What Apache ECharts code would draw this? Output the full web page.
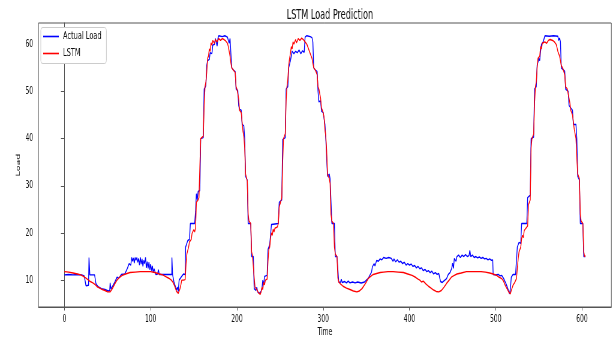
<!DOCTYPE html>
<html>
<head>
<meta charset="utf-8">
<title>LSTM Load Prediction</title>
<script src="https://cdn.jsdelivr.net/npm/echarts@6/dist/echarts.min.js"></script>
<style>
  html, body { margin: 0; padding: 0; background: #fff; }
  #wrap { width: 616px; height: 337px; overflow: hidden; }
  /* the reference figure is squeezed horizontally, so draw wide and squeeze the same way */
  #chart { width: 1027px; height: 337px; transform: scaleX(0.5998); transform-origin: 0 0; }
</style>
</head>
<body>
<div id="wrap"><div id="chart"></div></div>
<script>
// [time, load]
const actualLoad = [
  [0, 11.1], [5, 11.2], [10, 11.1], [15, 11.2], [20, 11.1], [23, 10.9], [24, 10.7], [25, 8.8], [28, 8.9],
  [28.5, 14.8], [29.5, 11.1], [35, 11.1], [36.5, 9.3], [39, 8.6], [43, 8.2], [47, 8.0], [51, 7.7], [52.5, 7.8],
  [53, 9.4], [54, 8.1], [56.5, 8.9], [58.5, 9.6], [61, 10.6], [63, 10.4], [66, 11.2], [70, 11.3], [73, 12.5],
  [75, 13.5], [77, 13.2], [78, 14.8], [79, 14.0], [80, 14.7], [81, 13.6], [82, 14.8], [83, 14.2], [84, 14.8],
  [85, 13.8], [86, 14.6], [87, 13.2], [88, 14.8], [89, 13.4], [90, 14.5], [91, 12.9], [92, 14.2], [93, 13.5],
  [94, 14.8], [95, 12.6], [96, 13.9], [97, 12.5], [98, 13.8], [99, 12.2], [100, 13.4], [101, 12.0], [102, 13.0],
  [103, 11.6], [104, 12.4], [105, 11.8], [106, 11.2], [108, 11.3], [109, 12.2], [110, 11.2], [114, 11.2],
  [118, 11.2], [122, 11.2], [124.5, 11.2], [124.6, 14.8], [125.4, 11.2], [127, 9.6], [130, 7.9], [131, 8.5],
  [132, 7.6], [133, 10.0], [136, 10.8], [138, 11.3], [140, 11.2], [140.5, 17.0], [143, 18.4], [145, 18.6],
  [146, 22.0], [151, 22.0], [152, 24.5], [153, 28.3], [154, 27.0], [155, 28.8], [157, 29.0], [158, 40.0],
  [161, 40.2], [162, 50.5], [164, 51.2], [165, 55.5], [166, 56.5], [168, 56.8], [169, 58.2], [171, 58.0],
  [172, 59.8], [174, 60.0], [175, 61.2], [177, 59.6], [178, 61.3], [179, 61.8], [183, 61.6], [186, 61.8],
  [189, 61.5], [190, 61.8], [191, 60.2], [192, 61.2], [193, 58.0], [194, 55.0], [196, 54.5], [198, 54.2],
  [199, 50.5], [201, 50.2], [202, 47.0], [203, 46.2], [205, 46.0], [206, 43.0], [208, 42.7], [209, 40.0],
  [210, 32.0], [212, 31.2], [213, 22.0], [216, 22.0], [217, 15.0], [219, 15.0], [220, 8.2], [222, 7.8],
  [223, 8.5], [224, 7.5], [226, 7.2], [228, 7.6], [229, 8.3], [230, 10.0], [231, 9.0], [232, 10.8], [235, 11.0],
  [236, 16.5], [238, 17.5], [240, 21.8], [241, 22.0], [248, 22.0], [249, 26.5], [252, 27.0], [253, 39.8],
  [256, 40.2], [257, 50.5], [259, 51.0], [260, 55.0], [262, 56.5], [264, 58.5], [266, 58.0], [268, 58.5],
  [270, 58.2], [272, 58.8], [274, 58.0], [276, 58.6], [278, 58.3], [279, 61.5], [281, 61.8], [285, 61.6],
  [287, 61.4], [288, 60.5], [289, 55.0], [291, 54.5], [293, 54.2], [294, 50.0], [295, 47.8], [297, 48.0],
  [298, 45.8], [300, 45.5], [302, 43.0], [303, 40.0], [305, 32.0], [307, 32.5], [308, 31.5], [310, 22.0],
  [313, 22.0], [314, 15.0], [316, 15.0], [318, 9.6], [320, 9.5], [321, 10.2], [322, 9.5], [325, 9.7],
  [327, 9.4], [329, 9.8], [331, 9.4], [334, 9.6], [337, 9.4], [340, 9.6], [344, 9.4], [348, 9.6], [350, 10.0],
  [352, 10.3], [354, 11.0], [356, 11.7], [357, 12.8], [359, 13.5], [360, 13.0], [362, 14.2], [364, 14.0],
  [366, 14.5], [368, 14.3], [370, 14.8], [373, 14.6], [376, 14.8], [379, 14.6], [381, 14.0], [382, 14.5],
  [384, 13.9], [386, 14.3], [388, 13.8], [390, 14.0], [392, 13.5], [394, 13.8], [396, 13.2], [398, 13.5],
  [400, 13.2], [402, 13.4], [404, 12.9], [406, 13.1], [408, 12.6], [410, 12.9], [412, 12.4], [414, 12.6],
  [416, 12.0], [418, 12.3], [420, 11.8], [422, 12.0], [424, 11.6], [426, 11.9], [428, 11.3], [430, 11.6],
  [432, 11.2], [434, 11.4], [435, 11.2], [436, 9.7], [438, 9.5], [441, 10.0], [443, 10.3], [445, 11.2],
  [447, 11.6], [449, 12.5], [450, 13.6], [451, 12.5], [452, 14.6], [454, 14.0], [455, 15.0], [457, 15.3],
  [459, 14.8], [461, 15.3], [463, 15.0], [465, 15.4], [467, 15.0], [469, 15.2], [470, 16.3], [471, 15.0],
  [473, 15.3], [475, 14.8], [477, 15.0], [479, 14.7], [481, 14.9], [483, 14.6], [485, 14.8], [487, 14.5],
  [489, 14.6], [491, 14.3], [493, 14.5], [495, 14.2], [496.5, 14.3], [497, 11.2], [500, 11.1], [503, 11.2],
  [505, 10.9], [507, 11.0], [509, 10.4], [512, 9.2], [514, 8.2], [516, 7.1], [517, 8.2], [518, 10.6],
  [520, 11.2], [523, 11.2], [524, 11.0], [525, 17.0], [527, 18.0], [529, 17.8], [530, 22.0], [536, 22.0],
  [537, 27.5], [540, 28.0], [541, 40.0], [544, 40.3], [545, 50.5], [547, 51.0], [548, 55.5], [550, 57.0],
  [551, 56.5], [552, 58.5], [553, 60.0], [555, 60.5], [557, 61.8], [562, 61.7], [567, 61.8], [572, 61.7],
  [573, 60.8], [574, 61.3], [575, 60.5], [576, 55.0], [578, 54.6], [580, 54.3], [581, 50.5], [584, 50.0],
  [585, 47.0], [587, 46.5], [589, 46.0], [590, 43.0], [593, 43.0], [594, 40.0], [595, 32.0], [597, 31.2],
  [598, 22.0], [601, 22.0], [602, 15.0], [604, 15.0]
];

const lstmLoad = [
  [0, 11.8], [5, 11.7], [10, 11.5], [15, 11.3], [19, 11.1], [22, 10.8], [25, 10.4], [28, 10.0], [30, 9.7],
  [31, 10.0], [33, 9.4], [36, 9.0], [38, 8.6], [41, 8.3], [44, 8.0], [47, 7.8], [50, 7.5], [53, 7.5], [55, 8.0],
  [57, 8.7], [59, 9.4], [61, 10.0], [64, 10.6], [67, 11.0], [71, 11.3], [76, 11.6], [82, 11.7], [88, 11.8],
  [94, 11.8], [100, 11.8], [105, 11.6], [110, 11.3], [114, 11.1], [118, 10.7], [121, 10.4], [124, 10.0],
  [126, 9.5], [128, 8.6], [130, 7.6], [132, 7.2], [133, 7.5], [134, 8.2], [135, 9.0], [136, 10.0], [138, 10.0],
  [140, 10.1], [141, 13.5], [142, 15.6], [144, 17.0], [145, 18.1], [147, 18.6], [148, 19.9], [149, 19.5],
  [150, 20.7], [151, 20.2], [152, 21.0], [153, 26.5], [155, 27.0], [156, 27.5], [157, 34.0], [158, 40.0],
  [161, 40.5], [162, 47.0], [163, 51.0], [164, 52.0], [165, 54.0], [166, 57.0], [167, 57.5], [168, 59.0],
  [169, 58.5], [170, 60.3], [171, 59.8], [172, 60.8], [174, 60.2], [175, 61.0], [177, 60.5], [179, 61.2],
  [181, 60.8], [183, 61.2], [185, 61.0], [187, 60.7], [189, 60.2], [190, 59.5], [191, 58.5], [192, 57.5],
  [193, 56.0], [194, 55.0], [196, 54.5], [198, 54.0], [199, 51.0], [200, 50.5], [202, 48.5], [203, 46.0],
  [205, 45.5], [206, 43.5], [207, 41.5], [208, 40.5], [209, 38.0], [210, 32.5], [212, 31.0], [213, 24.0],
  [214, 22.5], [216, 22.0], [217, 16.0], [218, 15.2], [219, 15.0], [220, 10.5], [221, 8.5], [223, 8.0],
  [225, 7.3], [227, 7.0], [228, 7.5], [229, 8.5], [230, 8.0], [231, 9.5], [232, 9.0], [233, 10.0], [235, 10.2],
  [236, 14.0], [237, 16.5], [238, 17.0], [239, 19.0], [240, 20.0], [241, 19.5], [242, 20.8], [243, 20.2],
  [244, 21.0], [247, 21.3], [248, 22.0], [249, 25.5], [251, 26.8], [252, 27.5], [253, 35.0], [254, 40.0],
  [256, 41.0], [257, 48.0], [258, 51.0], [259, 52.5], [260, 55.5], [261, 57.0], [262, 58.0], [263, 59.5],
  [264, 59.0], [265, 60.5], [266, 60.0], [268, 61.0], [269, 60.3], [271, 61.2], [273, 60.8], [275, 61.3],
  [277, 61.0], [279, 60.5], [281, 60.0], [283, 59.0], [285, 58.0], [287, 57.0], [289, 55.0], [291, 54.5],
  [293, 53.5], [294, 51.0], [295, 50.5], [297, 48.5], [298, 46.5], [300, 45.5], [301, 44.5], [302, 42.0],
  [303, 40.5], [304, 37.5], [305, 32.5], [307, 31.5], [308, 30.5], [309, 24.0], [310, 22.5], [312, 22.0],
  [313, 17.0], [314, 15.5], [316, 15.0], [317, 10.5], [318, 9.6], [320, 9.2], [323, 8.7], [327, 8.3],
  [331, 8.0], [335, 7.7], [339, 7.5], [342, 7.7], [345, 8.2], [348, 9.0], [350, 9.6], [352, 10.3], [355, 10.8],
  [358, 11.2], [362, 11.4], [366, 11.6], [370, 11.7], [375, 11.8], [381, 11.8], [387, 11.7], [393, 11.6],
  [398, 11.3], [403, 11.0], [407, 10.6], [410, 10.2], [412, 10.0], [414, 9.6], [416, 9.8], [417, 9.5],
  [419, 9.2], [422, 8.7], [425, 8.3], [428, 7.9], [431, 7.6], [434, 7.5], [437, 7.8], [440, 8.5], [443, 9.3],
  [446, 10.0], [449, 10.7], [452, 11.0], [455, 11.3], [460, 11.5], [466, 11.8], [472, 11.8], [478, 11.8],
  [483, 11.8], [488, 11.7], [493, 11.5], [497, 11.3], [501, 11.0], [504, 10.6], [507, 10.3], [509, 9.8],
  [511, 8.9], [513, 8.2], [515, 7.5], [517, 7.1], [518, 7.8], [519, 7.5], [520, 8.9], [522, 9.5], [523, 9.2],
  [524, 10.3], [525, 10.3], [526, 14.5], [527, 16.0], [529, 17.0], [530, 18.8], [531, 19.5], [532, 19.0],
  [533, 20.5], [534, 20.2], [535, 21.0], [537, 21.5], [538, 26.0], [540, 27.0], [541, 38.0], [542, 40.0],
  [544, 41.0], [545, 47.5], [546, 51.0], [547, 52.0], [548, 55.0], [549, 57.0], [551, 57.5], [552, 59.5],
  [553, 59.0], [554, 60.2], [555, 59.8], [557, 60.5], [559, 60.2], [561, 60.8], [563, 61.0], [566, 60.8],
  [568, 60.5], [570, 60.0], [571, 59.3], [572, 58.5], [574, 57.5], [575, 56.5], [576, 55.5], [578, 54.8],
  [580, 53.5], [581, 51.0], [583, 50.5], [585, 48.5], [586, 47.5], [587, 46.0], [589, 45.0], [591, 42.0],
  [592, 41.0], [593, 40.0], [594, 36.0], [595, 32.5], [597, 31.5], [598, 24.0], [599, 22.5], [601, 22.0],
  [602, 16.0], [603, 15.0], [604, 15.2]
];

const xTicks = [0, 100, 200, 300, 400, 500, 600];
const yTicks = [10, 20, 30, 40, 50, 60];

const font = "'DejaVu Sans', sans-serif";
const frame = "#555";

const chart = echarts.init(document.getElementById("chart"), null, { renderer: "canvas" });

// positions below are in the wide (unsqueezed) frame: real x = wide x * 0.6
chart.setOption({
  animation: false,
  title: {
    text: "LSTM Load Prediction",
    left: 545,
    textAlign: "center",
    top: 3,
    textStyle: { fontFamily: font, fontSize: 13.5, fontWeight: "normal", color: "#111" },
  },
  legend: {
    orient: "vertical",
    left: 68,
    top: 27.5,
    icon: "rect",
    itemWidth: 26,
    itemHeight: 1.6,
    itemGap: 3,
    padding: [2, 8, 3, 4],
    borderColor: "#ccc",
    borderWidth: 1,
    borderRadius: 3,
    backgroundColor: "#fff",
    textStyle: { fontFamily: font, fontSize: 11, lineHeight: 14, color: "#111", padding: [0, 0, 0, 2] },
    data: ["Actual Load", "LSTM"],
  },
  grid: {
    left: 64.2,
    right: 7.8,
    top: 23,
    bottom: 30,
    outerBoundsMode: "none",
    show: true,
    borderColor: frame,
    borderWidth: 1,
    backgroundColor: "transparent",
  },
  xAxis: {
    type: "value",
    min: -30,
    max: 634,
    name: "Time",
    nameLocation: "middle",
    nameGap: 20,
    nameMoveOverlap: false,
    nameTextStyle: { fontFamily: font, fontSize: 10, color: "#111" },
    axisLine: { show: true, lineStyle: { color: frame } },
    axisTick: { show: true, length: 3.5, lineStyle: { color: frame }, customValues: xTicks },
    axisLabel: { fontFamily: font, fontSize: 10, color: "#111", margin: 7, customValues: xTicks },
    splitLine: { show: false },
  },
  yAxis: {
    type: "value",
    min: 4.3,
    max: 64.5,
    name: "Load",
    nameLocation: "middle",
    nameGap: 29,
    nameRotate: 90,
    nameMoveOverlap: false,
    nameTextStyle: { fontFamily: font, fontSize: 9.5, color: "#111" },
    axisLine: { show: true, lineStyle: { color: frame } },
    axisTick: { show: true, length: 5.8, lineStyle: { color: frame }, customValues: yTicks },
    axisLabel: { fontFamily: font, fontSize: 10, color: "#111", margin: 9, customValues: yTicks },
    splitLine: { show: false },
  },
  series: [
    {
      name: "Actual Load",
      type: "line",
      data: actualLoad,
      symbol: "none",
      color: "#0000ff",
      lineStyle: { width: 1.4, color: "#0000ff" },
      z: 2,
    },
    {
      name: "LSTM",
      type: "line",
      data: lstmLoad,
      symbol: "none",
      color: "#ff0000",
      lineStyle: { width: 1.4, color: "#ff0000" },
      z: 3,
    },
  ],
});
</script>
</body>
</html>
